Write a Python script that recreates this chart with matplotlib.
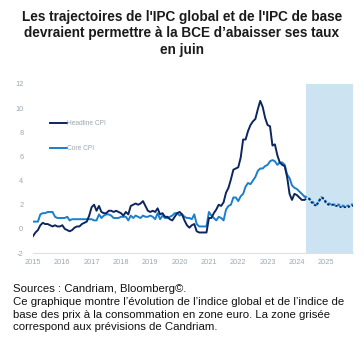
import matplotlib
matplotlib.use("Agg")
import matplotlib.pyplot as plt
import numpy as np

# ---------------- data ----------------
start_year = 2015
headline_actual = [
    -0.6, -0.3, -0.1, 0.3, 0.5, 0.4, 0.4, 0.3, 0.2, 0.3, 0.2, 0.2,   # 2015
    0.3, 0.0, -0.1, -0.2, -0.1, 0.1, 0.2, 0.2, 0.4, 0.5, 0.6, 1.1,   # 2016
    1.8, 2.0, 1.5, 1.9, 1.4, 1.3, 1.3, 1.5, 1.5, 1.4, 1.5, 1.4,      # 2017
    1.3, 1.1, 1.4, 1.2, 1.9, 2.0, 2.1, 2.0, 2.1, 2.3, 1.9, 1.5,      # 2018
    1.4, 1.5, 1.4, 1.7, 1.2, 1.3, 1.0, 1.0, 0.8, 0.7, 1.0, 1.3,      # 2019
    1.4, 1.2, 0.7, 0.3, 0.1, 0.3, 0.4, -0.2, -0.3, -0.3, -0.3, -0.3, # 2020
    0.9, 0.9, 1.3, 1.6, 2.0, 1.9, 2.2, 3.0, 3.4, 4.1, 4.9, 5.0,      # 2021
    5.1, 5.9, 7.4, 7.4, 8.1, 8.6, 8.9, 9.1, 9.9, 10.6, 10.1, 9.2,    # 2022
    8.6, 8.5, 6.9, 7.0, 6.1, 5.5, 5.3, 5.2, 4.3, 2.9, 2.4, 2.9,      # 2023
    2.8, 2.6, 2.4, 2.4,                                              # 2024
]
core_actual = [
    0.6, 0.6, 0.6, 1.2, 1.3, 1.3, 1.4, 1.4, 1.4, 1.0, 0.9, 0.9,      # 2015
    0.9, 0.9, 1.0, 0.7, 0.8, 0.8, 0.8, 0.8, 0.8, 0.8, 0.8, 0.8,      # 2016
    0.8, 0.7, 0.7, 1.2, 0.9, 1.1, 1.2, 1.2, 1.1, 0.9, 0.9, 0.9,      # 2017
    1.0, 1.0, 1.0, 0.7, 1.1, 0.9, 1.1, 1.0, 0.9, 1.1, 1.0, 1.0,      # 2018
    1.1, 1.0, 0.8, 1.3, 0.8, 1.1, 0.9, 0.9, 1.0, 1.1, 1.3, 1.3,      # 2019
    1.1, 1.2, 1.0, 0.9, 0.9, 0.8, 1.2, 0.4, 0.2, 0.2, 0.2, 0.2,      # 2020
    1.4, 1.1, 0.9, 0.7, 1.0, 0.9, 0.7, 1.6, 1.9, 2.0, 2.6, 2.6,      # 2021
    2.3, 2.7, 2.9, 3.5, 3.8, 3.7, 4.0, 4.3, 4.8, 5.0, 5.0, 5.2,      # 2022
    5.3, 5.6, 5.7, 5.6, 5.3, 5.5, 5.5, 5.3, 4.5, 4.2, 3.6, 3.4,      # 2023
    3.3, 3.1, 2.9, 2.7,                                              # 2024
]
# forecasts, 2024-04 .. 2025-12
headline_forecast = [2.4, 2.5, 2.5, 2.2, 2.0, 1.9, 2.3, 2.6, 2.5,
                     2.1, 2.0, 2.0, 2.0, 1.9, 1.9, 1.8, 1.8, 1.8, 1.8, 1.9, 1.9]
core_forecast = [2.7, 2.6, 2.5, 2.3, 2.1, 2.0, 2.3, 2.6, 2.5,
                 2.2, 2.1, 2.0, 2.0, 2.0, 2.0, 1.9, 1.9, 1.9, 1.9, 2.0, 2.0]
forecast_start = 2024.3
year_ticks = list(range(2015, 2026))
y_ticks = [-2, 0, 2, 4, 6, 8, 10, 12]

title = ("Les trajectoires de l'IPC global et de l'IPC de base\n"
         "devraient permettre à la BCE d’abaisser ses taux\n"
         "en juin")
footer = ("Sources : Candriam, Bloomberg©.\n"
          "Ce graphique montre l’évolution de l’indice global et de l’indice de\n"
          "base des prix à la consommation en zone euro. La zone grisée\n"
          "correspond aux prévisions de Candriam.")

# ---------------- plot ----------------
plt.rcParams['font.family'] = ['Liberation Sans', 'DejaVu Sans']
fig = plt.figure(figsize=(3.64, 3.42), dpi=100)
ax = fig.add_axes([0.0907, 0.2602, 0.8793, 0.4942])

n_act = len(headline_actual)
t_act = start_year + np.arange(n_act) / 12.0
t_fc = start_year + (n_act - 1 + np.arange(len(headline_forecast))) / 12.0
t_end = t_fc[-1]

dark = '#0c2660'
light = '#1a7fcc'
ax.axvspan(forecast_start, t_end, color='#cce3f1', lw=0, zorder=0)
ax.plot(t_act, headline_actual, color=dark, lw=1.4, label='Headline CPI', zorder=3)
ax.plot(t_act, core_actual, color=light, lw=1.4, label='Core CPI', zorder=2)
ax.plot(t_fc, core_forecast, color=light, lw=1.7, ls=(0, (1.2, 0.8)), zorder=2)
ax.plot(t_fc, headline_forecast, color=dark, lw=1.3, ls=(0, (1.2, 1.2)), zorder=3)

ax.set_xlim(start_year, t_end)
ax.set_ylim(-2, 12)
ax.set_xticks(year_ticks)
ax.set_xticklabels([str(y) for y in year_ticks])
ax.set_yticks(y_ticks)
ax.set_yticklabels([str(y) for y in y_ticks])
tick_col = '#9aa8b2'
ax.tick_params(axis='both', length=0, labelsize=5.3, colors=tick_col)
ax.tick_params(axis='y', pad=7)
ax.tick_params(axis='x', pad=4)
for s in ['top', 'right', 'left']:
    ax.spines[s].set_visible(False)
ax.spines['bottom'].set_color('#dde1e4')
ax.spines['bottom'].set_linewidth(0.8)

leg = ax.legend(loc='upper left', bbox_to_anchor=(0.045, 0.80), frameon=False,
                fontsize=4.8, labelspacing=2.7, handlelength=2.6, handletextpad=0.0,
                borderaxespad=0)
for txt in leg.get_texts():
    txt.set_color(tick_col)

fig.text(0.5, 0.970, title, ha='center', va='top', fontsize=9.8,
         fontweight='bold', linespacing=1.2, color='#1a1a1a')
fig.text(0.036, 0.170, footer, ha='left', va='top', fontsize=8.2,
         linespacing=1.36, color='#111111')

fig.savefig('out.png', dpi=100)
